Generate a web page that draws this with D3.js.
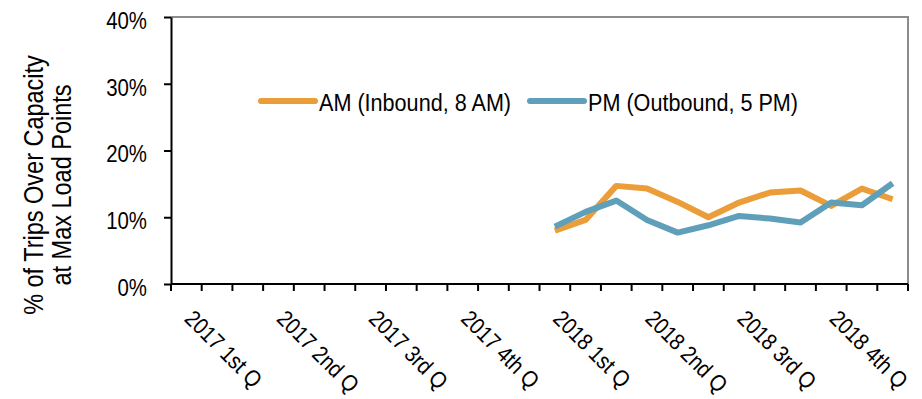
<!DOCTYPE html>
<html>
<head>
<meta charset="utf-8">
<script src="https://cdn.jsdelivr.net/npm/d3@7"></script>
<style>
  body { margin: 0; background: #fff; }
  text { font-family: "Liberation Sans", Arial, sans-serif; fill: #000; }
</style>
</head>
<body>
<div id="container"></div>
<script>
"use strict";

const months = [];
["2017", "2018"].forEach((y) => {
  for (let m = 1; m <= 12; m++) months.push(`${y}-${String(m).padStart(2, "0")}`);
});
const quarterLabels = [
  "2017 1st Q", "2017 2nd Q", "2017 3rd Q", "2017 4th Q",
  "2018 1st Q", "2018 2nd Q", "2018 3rd Q", "2018 4th Q"
];
const dataMonths = months.slice(12);
const amValues = [8.0, 9.6, 14.7, 14.3, 12.3, 10.0, 12.2, 13.7, 14.0, 11.7, 14.3, 12.7];
const pmValues = [8.6, 10.8, 12.5, 9.6, 7.7, 8.8, 10.2, 9.8, 9.2, 12.2, 11.8, 15.1];
const yTicks = [0, 10, 20, 30, 40];
const seriesNames = ["AM (Inbound, 8 AM)", "PM (Outbound, 5 PM)"];
const seriesColors = ["#EA9D38", "#5F9FBA"];

const width = 922, height = 399;
const margin = { top: 17, right: 14, bottom: 115, left: 171 };
// The original uses a narrow face; squeeze Liberation Sans horizontally instead.
const narrow = 0.85;

const svg = d3.create("svg").attr("width", width).attr("height", height);

const x = d3.scaleBand().domain(months).range([margin.left, width - margin.right]);
const y = d3.scaleLinear().domain([0, 40]).range([height - margin.bottom, margin.top]);

// Plot area border (top and right in gray).
svg.append("path")
  .attr("d", `M${margin.left},${margin.top}H${width - margin.right}V${height - margin.bottom}`)
  .attr("fill", "none")
  .attr("stroke", "#8c8c8c")
  .attr("stroke-width", 2);

// Y axis.
const yAxis = svg.append("g")
  .attr("transform", `translate(${margin.left},0)`)
  .call(d3.axisLeft(y).tickValues(yTicks).tickSize(7).tickSizeOuter(0).tickFormat((d) => d + "%"));
yAxis.attr("font-size", null).attr("font-family", null);
yAxis.select(".domain").attr("stroke-width", 2);
yAxis.selectAll(".tick line").attr("stroke-width", 2);
yAxis.selectAll(".tick text")
  .attr("x", 0)
  .attr("dy", "0.47em")
  .attr("transform", `translate(-24,0) scale(${narrow},1)`)
  .style("font-size", "24px");

// X axis: monthly ticks at band edges, one label per quarter.
const xAxis = svg.append("g")
  .attr("transform", `translate(0,${height - margin.bottom})`);
xAxis.append("line")
  .attr("x1", margin.left).attr("x2", width - margin.right)
  .attr("stroke", "#000").attr("stroke-width", 2);
const edges = months.map((m) => x(m)).concat([x.range()[1]]);
xAxis.selectAll(".mtick")
  .data(edges)
  .enter()
  .append("line")
  .attr("class", "mtick")
  .attr("x1", (d) => d).attr("x2", (d) => d)
  .attr("y1", 0).attr("y2", 7)
  .attr("stroke", "#000").attr("stroke-width", 2);
xAxis.selectAll(".qlabel")
  .data(quarterLabels)
  .enter()
  .append("text")
  .attr("class", "qlabel")
  .attr("transform", (d, i) =>
    `translate(${x(months[i * 3]) + x.bandwidth() / 2 - 3},36) rotate(45) scale(0.87,1)`)
  .style("font-size", "23px")
  .text((d) => d);

// Y axis title.
const yTitle = svg.append("text")
  .attr("transform", `translate(43,185) rotate(-90) scale(0.87,1)`)
  .attr("text-anchor", "middle")
  .style("font-size", "27px");
yTitle.append("tspan").attr("x", 0).attr("dy", 0).text("% of Trips Over Capacity");
yTitle.append("tspan").attr("x", 0).attr("dy", 28).text("at Max Load Points");

// Lines.
const line = d3.line()
  .x((d) => x(d.month) + x.bandwidth() / 2)
  .y((d) => y(d.value));
[amValues, pmValues].forEach((vals, i) => {
  svg.append("path")
    .datum(vals.map((v, j) => ({ month: dataMonths[j], value: v })))
    .attr("fill", "none")
    .attr("stroke", seriesColors[i])
    .attr("stroke-width", 6)
    .attr("stroke-linejoin", "round")
    .attr("d", line);
});

// Legend.
const legendX = [261, 530];
const legend = svg.append("g");
seriesNames.forEach((name, i) => {
  legend.append("line")
    .attr("x1", legendX[i]).attr("x2", legendX[i] + 54)
    .attr("y1", 101).attr("y2", 101)
    .attr("stroke", seriesColors[i])
    .attr("stroke-width", 6)
    .attr("stroke-linecap", "round");
  legend.append("text")
    .attr("transform", `translate(${legendX[i] + 58},111) scale(0.9,1)`)
    .style("font-size", "24px")
    .text(name);
});

document.getElementById("container").append(svg.node());
</script>
</body>
</html>
